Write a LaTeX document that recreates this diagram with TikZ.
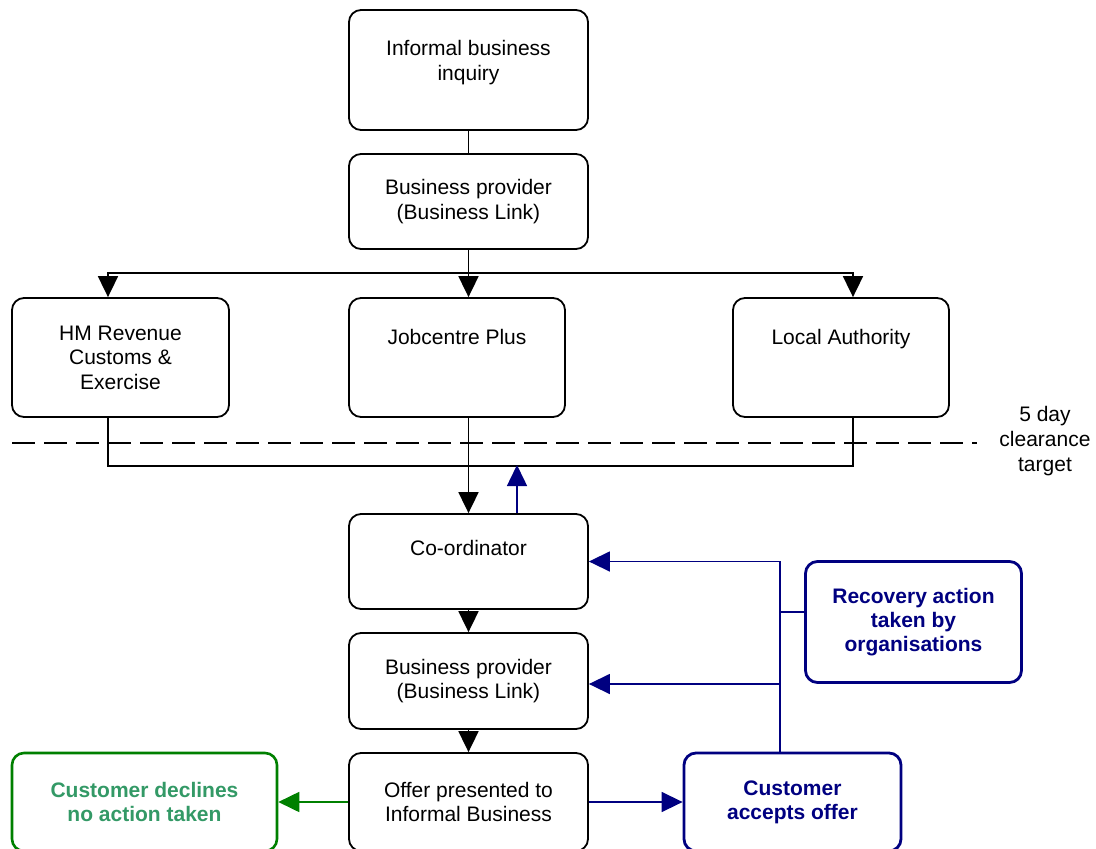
\documentclass[tikz,border=0pt]{standalone}
\usepackage{fontspec}
\setmainfont{Liberation Sans}
\usetikzlibrary{arrows.meta,positioning,calc}
\definecolor{navyline}{HTML}{000080}
\definecolor{declineline}{HTML}{008000}
\definecolor{declinetext}{HTML}{339966}
\tikzset{
  flowbox/.style={draw, rounded corners=12pt, line width=1.8pt, align=center,
    inner sep=0pt, font=\fontsize{21}{24.5}\selectfont},
  bluebox/.style={flowbox, draw=navyline, text=navyline, line width=2.8pt,
    font=\fontsize{21}{24}\selectfont\bfseries},
  greenbox/.style={flowbox, draw=declineline, text=declinetext, line width=2.6pt,
    font=\fontsize{21}{24}\selectfont\bfseries},
  arr/.style={-{Triangle[length=21pt,width=20pt]}, line width=1.8pt},
  plainline/.style={line width=1.8pt},
  bluearr/.style={-{Triangle[length=21pt,width=20pt]}, line width=1.5pt, draw=navyline},
  blueline/.style={line width=1.5pt, draw=navyline},
  greenarr/.style={-{Triangle[length=21pt,width=20pt]}, line width=1.8pt, draw=declineline}
}
\begin{document}
\begin{tikzpicture}[x=1pt,y=-1pt]
  \useasboundingbox (0,0) rectangle (1096,849);
  % upper chain
  \node[flowbox, minimum width=239pt, minimum height=120pt] (inq) at (468.5,70) {Informal business\\inquiry\\[-5pt]};
  \node[flowbox, minimum width=239pt, minimum height=95pt] (bp1) at (468.5,201.5) {Business provider\\(Business Link)};
  % the three organisations
  \node[flowbox, minimum width=217pt, minimum height=119pt] (hmrc) at (120.5,357.5) {HM Revenue\\Customs \&\\Exercise};
  \node[flowbox, minimum width=216pt, minimum height=119pt, text height=46pt, text depth=73pt] (jcp) at (457,357.5) {Jobcentre Plus};
  \node[flowbox, minimum width=216pt, minimum height=119pt, text height=46pt, text depth=73pt] (la) at (841,357.5) {Local Authority};
  \node[font=\fontsize{21}{25}\selectfont, align=center] (target) at (1045,441) {5 day\\clearance\\target};
  % lower chain
  \node[flowbox, minimum width=239pt, minimum height=95pt, text height=41pt, text depth=54pt] (coord) at (468.5,561.5) {Co-ordinator};
  \node[flowbox, minimum width=239pt, minimum height=96pt] (bp2) at (468.5,681) {Business provider\\(Business Link)};
  \node[flowbox, minimum width=239pt, minimum height=98pt] (offer) at (468.5,802) {Offer presented to\\Informal Business};
  \node[greenbox, minimum width=265pt, minimum height=98pt] (decl) at (144.5,802) {Customer declines\\no action taken};
  \node[bluebox, minimum width=217pt, minimum height=98pt] (acc) at (792.5,802) {Customer\\accepts offer};
  \node[bluebox, minimum width=216pt, minimum height=121pt] (rec) at (913.5,622) {Recovery action\\taken by\\organisations};

  \coordinate (split) at (468.5,273);
  \coordinate (merge) at (468.5,466);
  \coordinate (riser) at ([xshift=-12.5pt]acc.north);

  \draw[plainline] (inq) -- (bp1);
  \draw[plainline] (bp1.south) -- (split);
  \draw[arr] (split) -- (split |- jcp.north);
  \draw[arr] (split) -| ([xshift=-12.5pt]hmrc.north);
  \draw[arr] (split) -| ([xshift=12pt]la.north);

  % 5 day line
  \draw[plainline, dash pattern=on 23pt off 9pt] (12,443) -- (977,443);

  \draw[plainline] ([xshift=-12.5pt]hmrc.south) |- (merge) -| ([xshift=12pt]la.south);
  \draw[arr] (jcp.south -| coord.north) -- (coord.north);
  \draw[bluearr] ([xshift=48.5pt]coord.north) -- ([xshift=48.5pt,yshift=1pt]coord.north |- merge);
  \draw[arr] (coord) -- (bp2);
  \draw[arr] (bp2) -- (offer);
  \draw[greenarr] (offer.west) -- (decl.east);
  \draw[bluearr] (offer.east) -- (acc.west);

  % recovery loop
  \draw[bluearr] (riser) |- (coord.east);
  \draw[bluearr] ([yshift=-3pt]riser |- bp2.east) -- ([yshift=-3pt]bp2.east);
  \draw[blueline] ([yshift=10pt]riser |- rec.west) -- ([yshift=10pt]rec.west);
\end{tikzpicture}
\end{document}
